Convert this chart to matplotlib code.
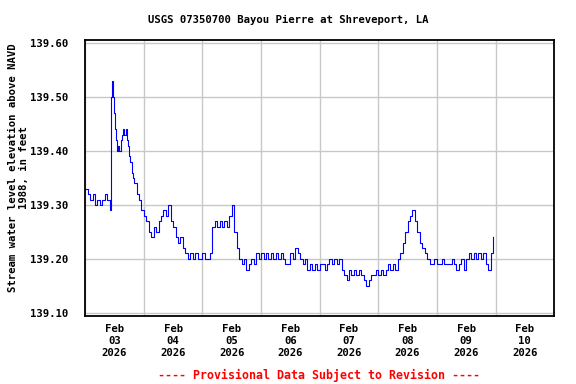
import numpy as np
import pandas as pd
import matplotlib
matplotlib.use('Agg')
import matplotlib.pyplot as plt
import matplotlib.dates as mdates
import matplotlib.ticker as mticker

# gage readings, hours after Feb 03 2026 00:00
hours = [0, 1, 2, 3, 4, 5, 6, 7, 8, 9, 10,
         10.4, 10.7, 11.0, 11.3, 11.7, 12.0, 12.5, 13.0, 13.5, 14.0, 14.5, 15.0,
         15.5, 16.0, 16.5, 17.0, 17.5, 18.0, 18.5, 19.0, 19.5, 20.0] + list(range(21, 168))
level = [139.33, 139.32, 139.31, 139.32, 139.30, 139.31, 139.30, 139.31, 139.32, 139.31, 139.29,
         139.39, 139.50, 139.53, 139.50, 139.47, 139.44, 139.42, 139.40, 139.41, 139.40, 139.42, 139.43,
         139.44, 139.43, 139.44, 139.42, 139.41, 139.39, 139.38, 139.36, 139.35, 139.34,
         # h21 - h40
         139.32, 139.31, 139.29, 139.28, 139.27, 139.25, 139.24, 139.26, 139.25, 139.27,
         139.28, 139.29, 139.28, 139.30, 139.27, 139.26, 139.24, 139.23, 139.24, 139.22,
         # h41 - h60
         139.21, 139.20, 139.21, 139.20, 139.21, 139.20, 139.20, 139.21, 139.20, 139.20,
         139.21, 139.26, 139.27, 139.26, 139.27, 139.26, 139.27, 139.26, 139.28, 139.30,
         # h61 - h80
         139.25, 139.22, 139.20, 139.19, 139.20, 139.18, 139.19, 139.20, 139.19, 139.21,
         139.20, 139.21, 139.20, 139.21, 139.20, 139.21, 139.20, 139.21, 139.20, 139.21,
         # h81 - h100
         139.20, 139.19, 139.19, 139.21, 139.20, 139.22, 139.21, 139.20, 139.19, 139.20,
         139.18, 139.19, 139.18, 139.19, 139.18, 139.19, 139.19, 139.18, 139.19, 139.20,
         # h101 - h120
         139.19, 139.20, 139.19, 139.20, 139.18, 139.17, 139.16, 139.18, 139.17, 139.18,
         139.17, 139.18, 139.17, 139.16, 139.15, 139.16, 139.17, 139.17, 139.18, 139.17,
         # h121 - h140
         139.18, 139.17, 139.18, 139.19, 139.18, 139.19, 139.18, 139.20, 139.21, 139.23,
         139.25, 139.27, 139.28, 139.29, 139.27, 139.25, 139.23, 139.22, 139.21, 139.20,
         # h141 - h160
         139.19, 139.19, 139.20, 139.19, 139.19, 139.20, 139.19, 139.19, 139.19, 139.20,
         139.19, 139.18, 139.19, 139.20, 139.18, 139.20, 139.21, 139.20, 139.21, 139.20,
         # h161 - h167
         139.21, 139.20, 139.21, 139.19, 139.18, 139.21, 139.24]

title = 'USGS 07350700 Bayou Pierre at Shreveport, LA'
ylabel = 'Stream water level elevation above NAVD\n1988, in feet'
footer = '---- Provisional Data Subject to Revision ----'

start = pd.Timestamp('2026-02-03')
times = start + pd.to_timedelta(hours, unit='h')

plt.rcParams['font.family'] = 'DejaVu Sans Mono'
plt.rcParams['font.weight'] = 'bold'
fs = 7.7

fig = plt.figure(figsize=(5.76, 3.84), dpi=100)
ax = fig.add_axes([0.148, 0.177, 0.814, 0.719])

ax.step(times, level, where='post', color='#0000ff', lw=0.8)

ax.set_xlim(start, start + pd.Timedelta(days=8))
ax.set_ylim(139.094, 139.606)
ax.yaxis.set_major_locator(mticker.MultipleLocator(0.1))
ax.yaxis.set_major_formatter(mticker.FormatStrFormatter('%.2f'))

ax.xaxis.set_major_locator(mdates.DayLocator())
ax.xaxis.set_major_formatter(mticker.NullFormatter())
ax.xaxis.set_minor_locator(mdates.HourLocator(byhour=12))
ax.xaxis.set_minor_formatter(mdates.DateFormatter('%b\n%d\n%Y'))

ax.grid(True, which='major', color='#c8c8c8', lw=1)
ax.set_axisbelow(True)
ax.tick_params(axis='both', which='both', length=0, labelsize=fs)
ax.tick_params(axis='y', pad=12)
ax.tick_params(axis='x', which='minor', pad=6)
for s in ax.spines.values():
    s.set_linewidth(1.3)

fig.text(0.5, 0.948, title, ha='center', va='center', fontsize=fs, weight='bold')
fig.text(0.032, 0.564, ylabel, ha='center', va='center', rotation=90,
         multialignment='center', fontsize=fs, weight='bold', linespacing=1.15)
fig.text(0.553, 0.023, footer, ha='center', va='center', fontsize=8.4,
         weight='bold', color='#ff0000')

fig.savefig('out.png', dpi=100)
